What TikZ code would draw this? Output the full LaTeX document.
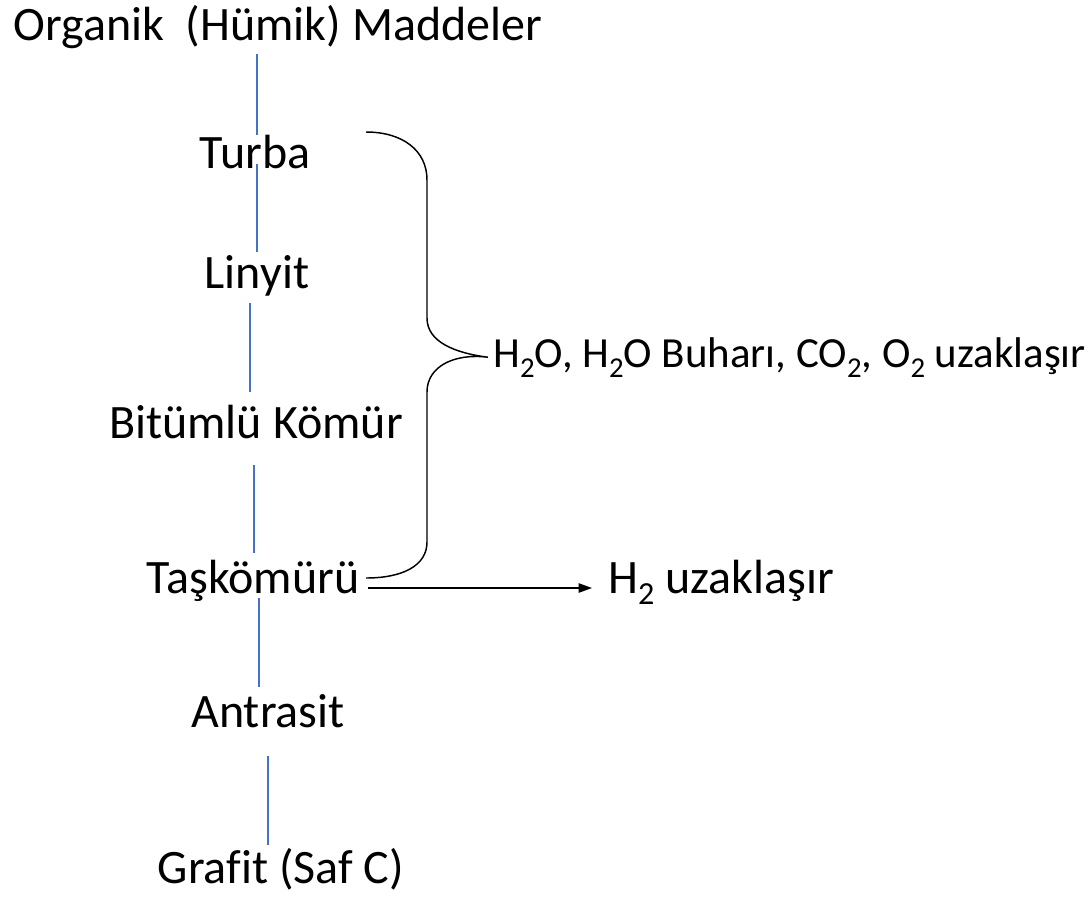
\documentclass[tikz,border=0pt]{standalone}
\usepackage{fontspec}
\setmainfont{Carlito}[Ligatures=CommonOff]
\usetikzlibrary{arrows.meta,calc}
\definecolor{kmavi}{RGB}{68,114,196}
\newcommand\kalt[1]{\raisebox{-0.24em}{\scalebox{0.67}{#1}}}
\begin{document}
\begin{tikzpicture}[x=0.75pt,y=-0.75pt,
  kat/.style={inner sep=0pt,anchor=base,font=\fontsize{36}{42}\selectfont},
  cikis/.style={inner sep=0pt,anchor=base west},
  kcizgi/.style={line width=1.2pt,draw=kmavi},
  kparantez/.style={line width=1.1pt,draw=black}]
\useasboundingbox (0,0) rectangle (1092,897);
\node[kat] (org) at (278,40) {Organik\ \ (Hümik) Maddeler};
\node[kat] (turba) at (255,168) {Turba};
\node[kat] (linyit) at (257,288) {Linyit};
\node[kat] (bitumlu) at (256,438) {Bitümlü Kömür};
\node[kat] (tas) at (253,593) {Taşkömürü};
\node[kat] (antrasit) at (268,727) {Antrasit};
\node[kat] (grafit) at (281,883) {Grafit (Saf C)};
\node[cikis,font=\fontsize{32.2}{38}\selectfont] (gaz) at (493,367) {H\kalt{2}O, H\kalt{2}O Buharı, CO\kalt{2}, O\kalt{2} uzaklaşır};
\node[cikis,font=\fontsize{36}{42}\selectfont] (h2) at (608,593) {H\kalt{2} uzaklaşır};
\foreach \kx/\kya/\kyb in {257/54/135,257/164/252,250/303/392,254/465/553,259/598/687,268/756/845}{\draw[kcizgi](\kx,\kya)--(\kx,\kyb);}
%\draw(org)--(turba)--(linyit)--(bitumlu)--(tas)--(antrasit)--(grafit);
\draw[kparantez] (366,132) .. controls (402,132) and (427,150) .. (427,180)
  -- (427,318) .. controls (427,342) and (455,353) .. ($(gaz.west)+(-5,0)$)
  .. controls (455,353) and (427,366) .. (427,392)
  -- (427,542) .. controls (427,566) and (402,578) .. (366,578);
\draw[kparantez,-{Triangle[length=10pt,width=7pt]}] ($(tas.base east)+(9,-5)$) -- ($(h2.base west)+(-16,-5)$);
\end{tikzpicture}
\end{document}
